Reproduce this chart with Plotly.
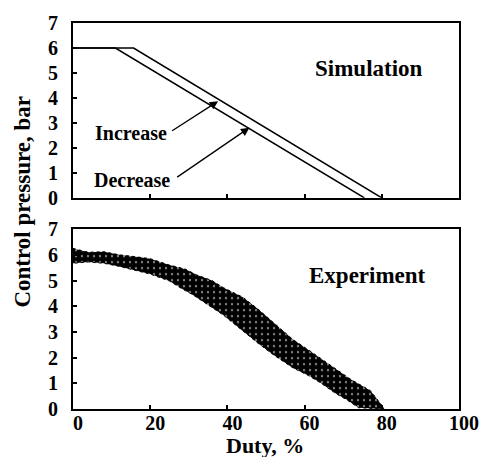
import plotly.graph_objects as go

# ---- Simulation (top panel) ----
inc_duty = [0, 15.7, 80.0]
inc_pressure = [6.0, 6.0, 0.0]
dec_duty = [0, 11.0, 75.5]
dec_pressure = [6.0, 6.0, 0.0]

# ---- Experiment (bottom panel): scatter band boundaries ----
band_upper_duty = [0, 4, 8, 12, 16, 20, 25, 29, 32, 36, 39, 44, 48, 52, 57, 61, 64, 68, 72, 77, 80.5]
band_upper_pressure = [6.25, 6.1, 6.12, 6.0, 5.93, 5.85, 5.6, 5.45, 5.22, 5.0, 4.72, 4.35, 3.88, 3.35, 2.7, 2.3, 1.98, 1.56, 1.15, 0.72, 0.05]
band_lower_duty = [0, 4, 8, 12, 16, 20, 25, 28, 31, 35, 39, 44, 48, 52, 57, 61, 64, 68, 71, 74, 80.5]
band_lower_pressure = [5.67, 5.72, 5.67, 5.55, 5.40, 5.25, 4.98, 4.7, 4.45, 4.05, 3.65, 3.05, 2.55, 2.1, 1.6, 1.3, 1.03, 0.61, 0.35, 0.05, 0.0]

x_ticks = [0, 20, 40, 60, 80, 100]
y_ticks = [0, 1, 2, 3, 4, 5, 6, 7]

fig = go.Figure()

fig.add_trace(go.Scatter(x=inc_duty, y=inc_pressure, mode="lines",
                         line=dict(color="black", width=1.6), xaxis="x", yaxis="y",
                         showlegend=False, name="Increase"))
fig.add_trace(go.Scatter(x=dec_duty, y=dec_pressure, mode="lines",
                         line=dict(color="black", width=1.6), xaxis="x", yaxis="y",
                         showlegend=False, name="Decrease"))

band_x = band_upper_duty + band_lower_duty[::-1]
band_y = band_upper_pressure + band_lower_pressure[::-1]
fig.add_trace(go.Scatter(x=band_x, y=band_y, mode="lines", fill="toself",
                         line=dict(color="black", width=1.0, dash="dot"),
                         fillcolor="black",
                         fillpattern=dict(shape=".", bgcolor="black", fgcolor="white",
                                          size=6, solidity=0.12),
                         xaxis="x2", yaxis="y2", showlegend=False, name="Experiment"))

tickfont = dict(family="Liberation Serif", size=20, color="black", weight="bold")
axis_common = dict(showline=True, linecolor="black", linewidth=2, mirror=True,
                   ticks="inside", ticklen=4, tickcolor="black", tickwidth=1.5,
                   showgrid=False, zeroline=False, tickfont=tickfont)

fig.update_layout(
    width=492, height=457,
    margin=dict(l=73, r=33, t=14, b=48),
    paper_bgcolor="white", plot_bgcolor="white",
    xaxis=dict(range=[0, 100], tickvals=x_ticks, showticklabels=False, anchor="y",
               domain=[0, 1], **axis_common),
    yaxis=dict(range=[0, 7], tickvals=y_ticks, domain=[0.547, 1], anchor="x",
               ticklabelstandoff=9, **axis_common),
    xaxis2=dict(range=[0, 100], tickvals=x_ticks, anchor="y2", domain=[0, 1],
                ticklabelshift=5, ticklabelstandoff=-5, **axis_common),
    yaxis2=dict(range=[0, 7], tickvals=y_ticks, domain=[0, 0.466], anchor="x2",
                ticklabelstandoff=9, **axis_common),
)

big = dict(family="Liberation Serif", size=23, color="black", weight="bold")
small = dict(family="Liberation Serif", size=20, color="black", weight="bold")
title_font = dict(family="Liberation Serif", size=23, color="black", weight="bold")
xtitle_font = dict(family="Liberation Serif", size=22, color="black", weight="bold")

annotations = [
    dict(text="Simulation", x=76.8, y=5.18, xref="x", yref="y", showarrow=False, font=big),
    dict(text="Experiment", x=76.2, y=5.21, xref="x2", yref="y2", showarrow=False, font=big),
    dict(text="Increase", x=14.9, y=2.61, xref="x", yref="y", showarrow=False, font=small),
    dict(text="Decrease", x=15.4, y=0.71, xref="x", yref="y", showarrow=False, font=small),
    dict(text="", x=37.6, y=3.87, ax=25.3, ay=2.65, xref="x", yref="y", axref="x", ayref="y",
         showarrow=True, arrowhead=2, arrowsize=1.3, arrowwidth=1.3, arrowcolor="black"),
    dict(text="", x=45.7, y=2.81, ax=26.6, ay=0.79, xref="x", yref="y", axref="x", ayref="y",
         showarrow=True, arrowhead=2, arrowsize=1.3, arrowwidth=1.3, arrowcolor="black"),
    dict(text="Control pressure, bar", x=-0.13, y=0.537, xref="paper", yref="paper",
         textangle=-90, showarrow=False, font=title_font, xanchor="center", yanchor="middle"),
    dict(text="Duty, %", x=0.497, y=-0.0937, xref="paper", yref="paper",
         showarrow=False, font=xtitle_font, xanchor="center", yanchor="middle"),
]
fig.update_layout(annotations=annotations)

fig.write_html("out.html")
